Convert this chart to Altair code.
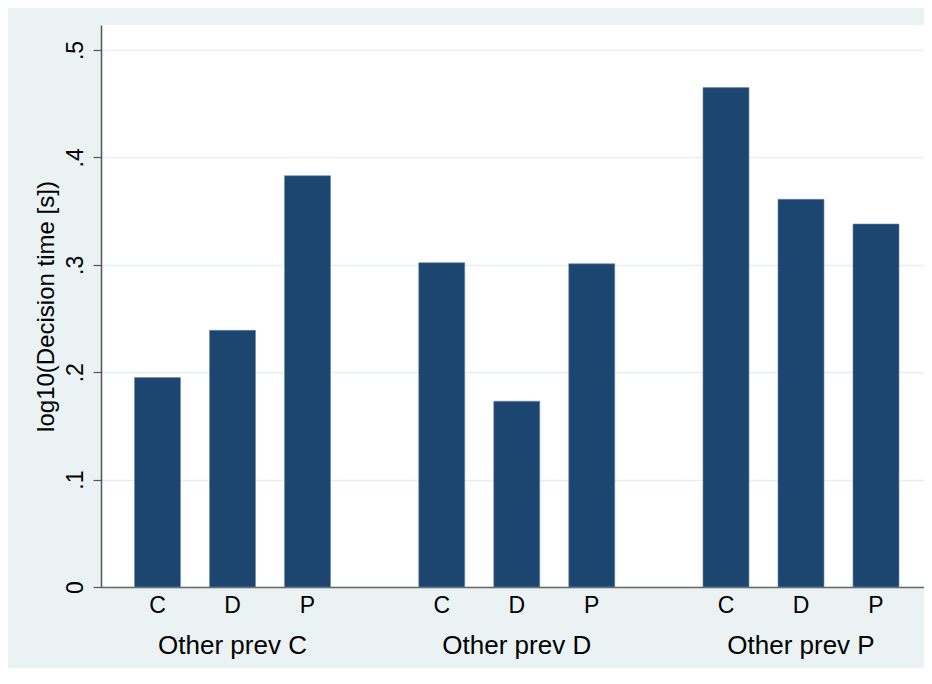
import altair as alt
import pandas as pd

groups = ["Other prev C", "Other prev D", "Other prev P"]
choices = ["C", "D", "P"]
vals_prev_c = [0.195, 0.239, 0.383]
vals_prev_d = [0.302, 0.173, 0.301]
vals_prev_p = [0.465, 0.361, 0.338]
y_ticks = [0, 0.1, 0.2, 0.3, 0.4, 0.5]
y_tick_labels = ["0", ".1", ".2", ".3", ".4", ".5"]

rows = []
for g, vals in zip(groups, [vals_prev_c, vals_prev_d, vals_prev_p]):
    for c, v in zip(choices, vals):
        rows.append({"group": g, "choice": c, "value": v})
df = pd.DataFrame(rows)

FONT = "Liberation Sans"
W, H = 823, 562

label_expr = " : ".join([f"datum.value == {t} ? '{l}'" for t, l in zip(y_ticks, y_tick_labels)]) + " : ''"

x_enc = alt.X(
    "group:N",
    sort=groups,
    scale=alt.Scale(paddingInner=0.2084, paddingOuter=0.0519, align=0.644),
    axis=alt.Axis(
        title=None, ticks=False, tickSize=0, labelAngle=0, labelFontSize=26,
        labelFont=FONT, labelColor="#000000", labelPadding=45, labelBaseline="top",
        domainColor="#666666", domainWidth=1.5,
    ),
)
xoff_enc = alt.XOffset(
    "choice:N", sort=choices,
    scale=alt.Scale(paddingInner=0.3867, paddingOuter=0.1933),
)

bars = alt.Chart(df).mark_bar(color="#1c4670", stroke="#6f8aa3", strokeWidth=0.6).encode(
    x=x_enc,
    xOffset=xoff_enc,
    y=alt.Y(
        "value:Q",
        scale=alt.Scale(domain=[0, 0.5233], nice=False, zero=True),
        axis=alt.Axis(
            values=y_ticks, labelExpr=label_expr, labelAngle=-90, labelAlign="center",
            labelBaseline="bottom", labelFontSize=23, labelFont=FONT, labelColor="#000000",
            labelPadding=6, tickSize=8, tickColor="#555555", tickWidth=1.2,
            domainColor="#555555", domainWidth=1.5,
            grid=True, gridColor="#e6eef0", gridWidth=1.5,
            title="log10(Decision time [s])", titleFontSize=24, titleFont=FONT,
            titleFontWeight="normal", titleColor="#000000", titleAngle=-90,
            titleX=-55, titleY=H / 2, titleAlign="center", titleBaseline="middle",
        ),
    ),
)

sub_labels = alt.Chart(df).mark_text(
    fontSize=23, font=FONT, color="#000000", baseline="top", align="center"
).encode(
    x=alt.X("group:N", sort=groups),
    xOffset=alt.XOffset("choice:N", sort=choices),
    y=alt.value(H + 8),
    text="choice:N",
)

chart = alt.layer(bars, sub_labels).properties(
    width=W, height=H,
    autosize=alt.AutoSizeParams(type="none"),
    padding={"left": 93, "top": 17, "right": 0, "bottom": 81},
    background="#eaf2f3",
).configure_view(
    fill="#ffffff", stroke=None,
)

chart.save("out.html", embed_options={"renderer": "svg", "actions": False})
